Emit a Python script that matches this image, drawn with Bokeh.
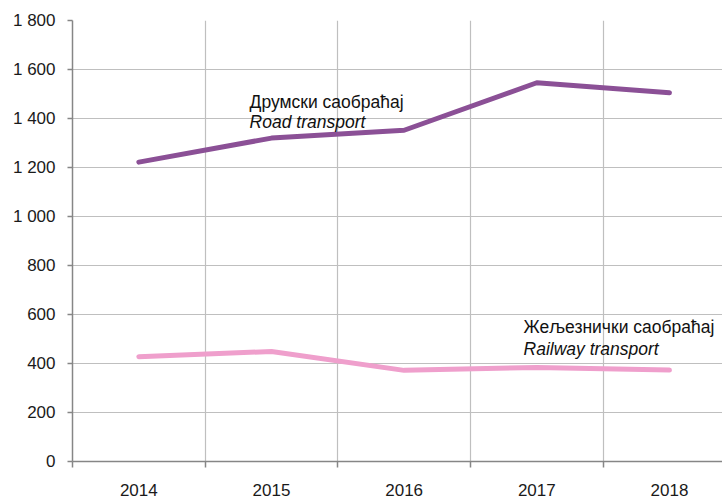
from bokeh.plotting import figure
from bokeh.models import FixedTicker, Label, Range1d
from bokeh.embed import file_html
from bokeh.resources import INLINE

years = ["2014", "2015", "2016", "2017", "2018"]
road = [1222, 1320, 1352, 1546, 1505]
railway = [428, 449, 372, 384, 373]
y_ticks = [0, 200, 400, 600, 800, 1000, 1200, 1400, 1600, 1800]
y_labels = ["0", "200", "400", "600", "800", "1 000", "1 200", "1 400", "1 600", "1 800"]
road_label = ["Друмски саобраћај", "Road transport"]
rail_label = ["Жељезнички саобраћај", "Railway transport"]

FONT = "Liberation Sans"
xs = [i + 0.5 for i in range(len(years))]

p = figure(width=722, height=500, output_backend="svg", toolbar_location=None,
           x_range=Range1d(0, 4.9), y_range=Range1d(0, 1800),
           min_border_left=72, min_border_right=0, min_border_top=20, min_border_bottom=39)
p.outline_line_color = None

p.line(xs, railway, line_color="#EF9FCC", line_width=5, line_cap="round", line_join="round")
p.line(xs, road, line_color="#8B5096", line_width=5, line_cap="round", line_join="round")

# x axis
p.xaxis.ticker = FixedTicker(ticks=xs, minor_ticks=list(range(len(years) + 1)))
p.xaxis.major_label_overrides = {x: y for x, y in zip(xs, years)}
p.xaxis.major_tick_out = 0
p.xaxis.major_tick_in = 0
p.xaxis.minor_tick_out = 6
p.xaxis.minor_tick_in = 0
p.xaxis.minor_tick_line_color = "#868686"
p.xaxis.minor_tick_line_width = 1.5
p.xgrid.ticker = FixedTicker(ticks=list(range(1, len(years) + 1)))

# y axis
p.yaxis.ticker = FixedTicker(ticks=y_ticks)
p.yaxis.major_label_overrides = {t: l for t, l in zip(y_ticks, y_labels)}
p.yaxis.major_tick_out = 5
p.yaxis.major_tick_in = 0
p.yaxis.minor_tick_line_color = None
p.ygrid.ticker = FixedTicker(ticks=y_ticks[1:])

for ax in (p.xaxis, p.yaxis):
    ax.axis_line_color = "#868686"
    ax.axis_line_width = 1.5
    ax.major_tick_line_color = "#868686"
    ax.major_tick_line_width = 1.5
    ax.major_label_text_font = FONT
    ax.major_label_text_font_size = "17px"
    ax.major_label_text_color = "#1a1a1a"
p.xaxis.major_label_standoff = 16
p.yaxis.major_label_standoff = 12

for g in (p.xgrid, p.ygrid):
    g.grid_line_color = "#BFBFBF"
    g.grid_line_width = 1.2

def add_label(x, y, txt, style):
    p.add_layout(Label(x=x, y=y, text=txt, text_font=FONT, text_font_size="17.5px",
                       text_font_style=style, text_color="#111111",
                       text_baseline="alphabetic", text_align="left"))

add_label(1.335, 1469, road_label[0], "normal")
add_label(1.335, 1384, road_label[1], "italic")
add_label(3.40, 547, rail_label[0], "normal")
add_label(3.40, 461, rail_label[1], "italic")

open("out.html", "w").write(file_html(p, INLINE))
